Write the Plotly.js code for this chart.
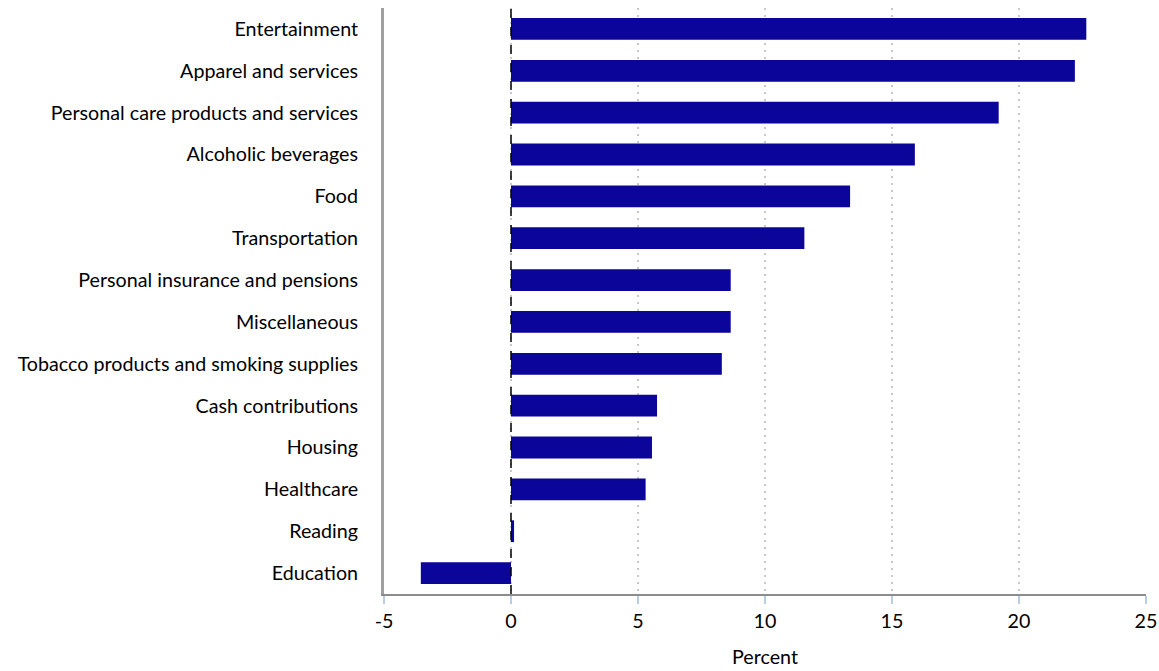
<!DOCTYPE html>
<html><head><meta charset="utf-8">
<script src="https://cdn.plot.ly/plotly-3.0.1.min.js"></script>
<style>html,body{margin:0;padding:0;background:#fff}</style>
</head><body>
<div id="chart" style="width:1159px;height:671px"></div>
<script>
const categories = [
  "Entertainment","Apparel and services","Personal care products and services",
  "Alcoholic beverages","Food","Transportation","Personal insurance and pensions",
  "Miscellaneous","Tobacco products and smoking supplies","Cash contributions",
  "Housing","Healthcare","Reading","Education"
];
const values = [22.65, 22.2, 19.2, 15.9, 13.35, 11.55, 8.65, 8.65, 8.3, 5.75, 5.55, 5.3, 0.12, -3.55];
const xTicks = [-5, 0, 5, 10, 15, 20, 25];

const trace = {
  type: 'bar', orientation: 'h',
  x: values, y: categories,
  marker: {color: '#0c0599', line: {width: 0}},
  width: 0.52,
  hoverinfo: 'x+y'
};
const layout = {
  width: 1159, height: 671,
  margin: {l: 384, r: 13, t: 8, b: 77},
  paper_bgcolor: '#fff', plot_bgcolor: '#fff',
  font: {family: 'Lato, "Open Sans", sans-serif', size: 19.7, color: '#000'},
  showlegend: false,
  xaxis: {
    range: [-5, 25], tickvals: xTicks, ticktext: xTicks.map(String),
    showgrid: true, gridcolor: '#c8c8c8', griddash: '2px,5px', gridwidth: 1.5,
    zeroline: false,
    showline: true, linecolor: '#8c8c8c', linewidth: 2,
    ticks: 'outside', ticklen: 8, tickcolor: '#b8cce4', tickwidth: 2,
    tickfont: {size: 19.7},
    title: {text: 'Percent', font: {size: 19.7}, standoff: 20},
    fixedrange: true
  },
  yaxis: {
    type: 'category', autorange: 'reversed',
    showgrid: false, zeroline: false,
    showline: true, linecolor: '#a0a0a0', linewidth: 3,
    ticks: '', ticklabelstandoff: 19,
    fixedrange: true
  },
  shapes: [{
    type: 'line', xref: 'x', yref: 'paper', x0: 0, x1: 0, y0: 0, y1: 1,
    line: {color: '#000', width: 1.5, dash: 'dash'}, layer: 'above'
  }]
};
Plotly.newPlot('chart', [trace], layout, {displayModeBar: false, staticPlot: true});
</script>
</body></html>
